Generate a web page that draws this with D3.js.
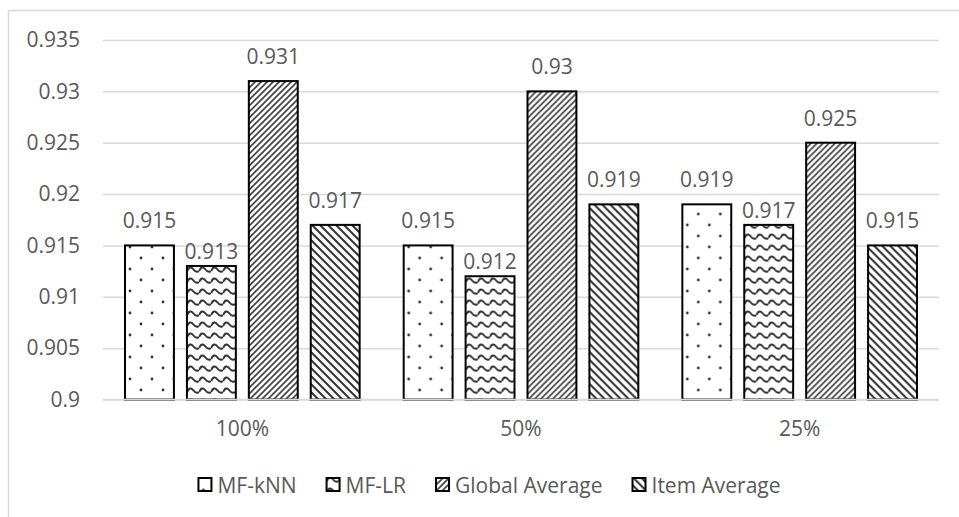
<!DOCTYPE html>
<html><head><meta charset="utf-8">
<script src="https://cdn.jsdelivr.net/npm/d3@7/dist/d3.min.js"></script>
<style>
html,body{margin:0;padding:0;background:#fff;}
svg{display:block;font-family:"Open Sans",sans-serif;}
</style></head>
<body>
<svg id="chart" width="959" height="517"></svg>
<script>
const categories = ["100%", "50%", "25%"];
const seriesNames = ["MF-kNN", "MF-LR", "Global Average", "Item Average"];
const mfKnn = [0.915, 0.915, 0.919];
const mfLr = [0.913, 0.912, 0.917];
const globalAvg = [0.931, 0.930, 0.925];
const itemAvg = [0.917, 0.919, 0.915];
const yTicks = [0.9, 0.905, 0.91, 0.915, 0.92, 0.925, 0.93, 0.935];
const yTickLabels = ["0.9", "0.905", "0.91", "0.915", "0.92", "0.925", "0.93", "0.935"];

const seriesValues = [mfKnn, mfLr, globalAvg, itemAvg];
const patternIds = ["pDots", "pWave", "pUp", "pDown"];
const labelGap = [17, 7, 17, 17];

const svg = d3.select("#chart");
const textColor = "#595959";
const gridColor = "#d9d9d9";
const fontSize = 21;

// patterns
const defs = svg.append("defs");
const pd = defs.append("pattern").attr("id", "pDots").attr("patternUnits", "userSpaceOnUse")
  .attr("width", 22).attr("height", 22);
pd.append("rect").attr("width", 22).attr("height", 22).attr("fill", "#fff");
pd.append("circle").attr("cx", 5).attr("cy", 5).attr("r", 1.4).attr("fill", "#333");
pd.append("circle").attr("cx", 16).attr("cy", 16).attr("r", 1.4).attr("fill", "#333");

const pw = defs.append("pattern").attr("id", "pWave").attr("patternUnits", "userSpaceOnUse")
  .attr("width", 12).attr("height", 11);
pw.append("rect").attr("width", 12).attr("height", 11).attr("fill", "#fff");
pw.append("path").attr("d", "M0,7 Q3,1 6,5 T12,7").attr("fill", "none")
  .attr("stroke", "#333").attr("stroke-width", 2);

const pu = defs.append("pattern").attr("id", "pUp").attr("patternUnits", "userSpaceOnUse")
  .attr("width", 6).attr("height", 6);
pu.append("rect").attr("width", 6).attr("height", 6).attr("fill", "#fff").attr("fill-opacity", 0.85);
pu.append("path").attr("d", "M-1,1 L1,-1 M0,6 L6,0 M5,7 L7,5").attr("stroke", "#444").attr("stroke-width", 1.7);

const pdn = defs.append("pattern").attr("id", "pDown").attr("patternUnits", "userSpaceOnUse")
  .attr("width", 8).attr("height", 8);
pdn.append("rect").attr("width", 8).attr("height", 8).attr("fill", "#fff").attr("fill-opacity", 0.85);
pdn.append("path").attr("d", "M-1,7 L1,9 M0,0 L8,8 M7,-1 L9,1").attr("stroke", "#333").attr("stroke-width", 2);

// chart border (left & top visible)
svg.append("rect").attr("x", 8.5).attr("y", 10.5).attr("width", 1000).attr("height", 600)
  .attr("fill", "none").attr("stroke", gridColor).attr("stroke-width", 1.5);

const plot = {left: 103, right: 939, top: 40, bottom: 399.5};

const x0 = d3.scaleBand().domain(categories).range([plot.left, plot.right]).padding(0);
const outer = x0.bandwidth() * 0.079;
const x1 = d3.scaleBand().domain(seriesNames).range([outer, x0.bandwidth() - outer]).paddingInner(0.21).paddingOuter(0);
const y = d3.scaleLinear().domain([0.9, 0.935]).range([plot.bottom, plot.top]);

const yAxis = d3.axisLeft(y).tickValues(yTicks)
  .tickFormat((d, i) => yTickLabels[i]).tickSize(-(plot.right - plot.left)).tickPadding(23);
const gy = svg.append("g").attr("transform", `translate(${plot.left},0)`).call(yAxis);
gy.select(".domain").remove();
gy.selectAll(".tick line").attr("stroke", gridColor).attr("stroke-width", 1.5);
gy.selectAll(".tick text").attr("fill", textColor).attr("font-size", fontSize)
  .attr("font-family", "Open Sans, sans-serif");

const groups = svg.append("g").selectAll("g").data(categories).join("g")
  .attr("transform", d => `translate(${x0(d)},0)`);

groups.each(function(cat, ci) {
  const g = d3.select(this);
  seriesNames.forEach((s, si) => {
    const v = seriesValues[si][ci];
    g.append("rect")
      .attr("x", x1(s)).attr("y", y(v))
      .attr("width", x1.bandwidth()).attr("height", y(0.9) - y(v))
      .attr("fill", `url(#${patternIds[si]})`)
      .attr("stroke", "#000").attr("stroke-width", 2);
    g.append("text")
      .attr("x", x1(s) + x1.bandwidth() / 2).attr("y", y(v) - labelGap[si])
      .attr("text-anchor", "middle").attr("fill", textColor).attr("font-size", fontSize)
      .text(String(v));
  });
});

svg.append("line").attr("x1", plot.left).attr("x2", plot.right)
  .attr("y1", y(0.9)).attr("y2", y(0.9)).attr("stroke", gridColor).attr("stroke-width", 1.5);

const xAxis = d3.axisBottom(x0).tickSize(0).tickPadding(22);
const gx = svg.append("g").attr("transform", `translate(0,${plot.bottom})`).call(xAxis);
gx.select(".domain").remove();
gx.selectAll(".tick text").attr("fill", textColor).attr("font-size", fontSize)
  .attr("font-family", "Open Sans, sans-serif");

const legend = svg.append("g").attr("transform", "translate(0,485)");
const items = legend.selectAll("g").data(seriesNames).join("g");
items.append("rect").attr("x", 0).attr("y", -7).attr("width", 13).attr("height", 13)
  .attr("fill", (d, i) => `url(#${patternIds[i]})`).attr("stroke", "#000").attr("stroke-width", 2);
items.append("text").attr("x", 19).attr("y", 7.5).attr("fill", textColor).attr("font-size", fontSize).text(d => d);
let widths = [];
items.each(function() { widths.push(this.getBBox().width); });
const gap = 30;
const total = d3.sum(widths) + gap * (widths.length - 1);
let cx = 489.5 - total / 2;
items.attr("transform", (d, i) => { const t = `translate(${cx},0)`; cx += widths[i] + gap; return t; });
</script>
</body></html>
